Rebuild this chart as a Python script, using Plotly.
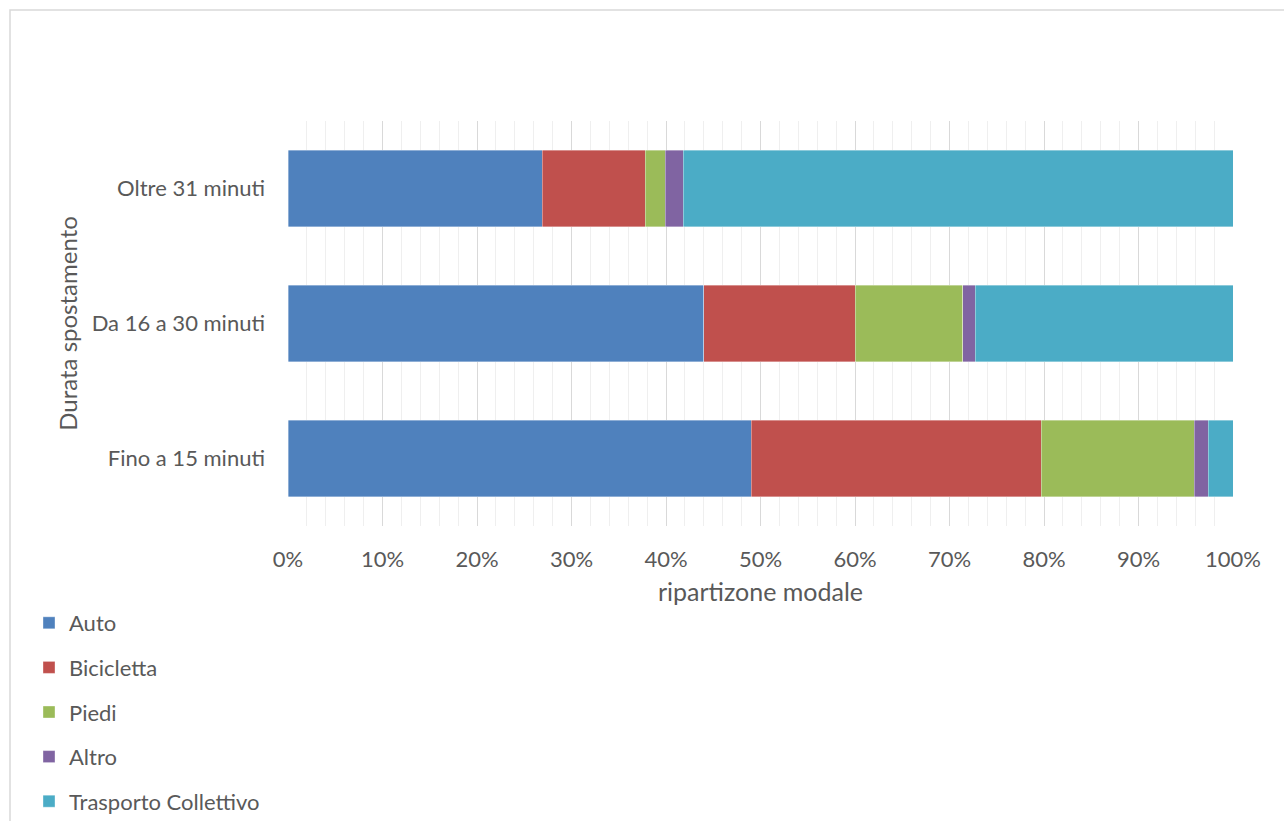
import plotly.graph_objects as go

# Durata dello spostamento (dal basso verso l'alto)
categorie = ["Fino a 15 minuti", "Da 16 a 30 minuti", "Oltre 31 minuti"]

# Ripartizione modale in percentuale per ciascuna durata
auto = [49.0, 44.0, 26.9]
bicicletta = [30.7, 16.0, 10.9]
piedi = [16.2, 11.4, 2.1]
altro = [1.5, 1.3, 1.9]
trasporto_collettivo = [2.6, 27.3, 58.2]

serie = [
    ("Auto", auto, "#4F81BD"),
    ("Bicicletta", bicicletta, "#C0504D"),
    ("Piedi", piedi, "#9BBB59"),
    ("Altro", altro, "#8064A2"),
    ("Trasporto Collettivo", trasporto_collettivo, "#4BACC6"),
]

FONT = "Lato, Calibri, Carlito, sans-serif"
GRIGIO = "#595959"

fig = go.Figure()
for nome, valori, colore in serie:
    fig.add_trace(go.Bar(
        y=categorie,
        x=[v / 100 for v in valori],
        name=nome,
        orientation="h",
        marker=dict(color=colore, line=dict(color="rgba(255,255,255,0.45)", width=0.8)),
        legendgroup=nome,
        hovertemplate="%{y}: %{x:.1%}<extra>" + nome + "</extra>",
    ))

L, R, T, B = 288, 51, 121, 295
W, H = 1284, 821
pw, ph = W - L - R, H - T - B

fig.update_layout(
    width=W, height=H,
    margin=dict(l=L, r=R, t=T, b=B, autoexpand=False),
    barmode="stack",
    bargap=0.43,
    paper_bgcolor="white",
    plot_bgcolor="white",
    font=dict(family=FONT, size=22, color=GRIGIO),
    showlegend=True,
    legend=dict(
        orientation="v",
        traceorder="grouped",
        x=(29 - L) / pw, xanchor="left",
        y=(H - B - 602) / ph, yanchor="top",
        font=dict(family=FONT, size=22, color=GRIGIO),
        tracegroupgap=13,
        itemwidth=30,
        bgcolor="rgba(0,0,0,0)",
    ),
    xaxis=dict(
        range=[0, 1],
        tickformat=".0%",
        dtick=0.1,
        tick0=0,
        showgrid=True,
        gridcolor="#D9D9D9",
        gridwidth=1.2,
        zeroline=False,
        showline=False,
        ticks="",
        ticklabelstandoff=18,
        tickfont=dict(family=FONT, size=22, color=GRIGIO),
        minor=dict(dtick=0.02, showgrid=True, gridcolor="#EFEFEF", gridwidth=1),
        title=dict(text="ripartizone modale", font=dict(family=FONT, size=25, color=GRIGIO), standoff=12),
        fixedrange=True,
    ),
    yaxis=dict(
        showgrid=False,
        zeroline=False,
        showline=False,
        ticks="",
        ticklabelstandoff=22,
        tickfont=dict(family=FONT, size=22, color=GRIGIO),
        title=dict(text="Durata spostamento", font=dict(family=FONT, size=24, color=GRIGIO), standoff=7),
        fixedrange=True,
    ),
)

# Cornice esterna del grafico
fig.add_shape(
    type="rect", xref="paper", yref="paper",
    x0=(10 - L) / pw, x1=(1300 - L) / pw,
    y0=(H - B - 840) / ph, y1=(H - B - 10) / ph,
    line=dict(color="#D9D9D9", width=1.5),
    fillcolor="rgba(0,0,0,0)",
    layer="below",
)

fig.write_html("out.html")
